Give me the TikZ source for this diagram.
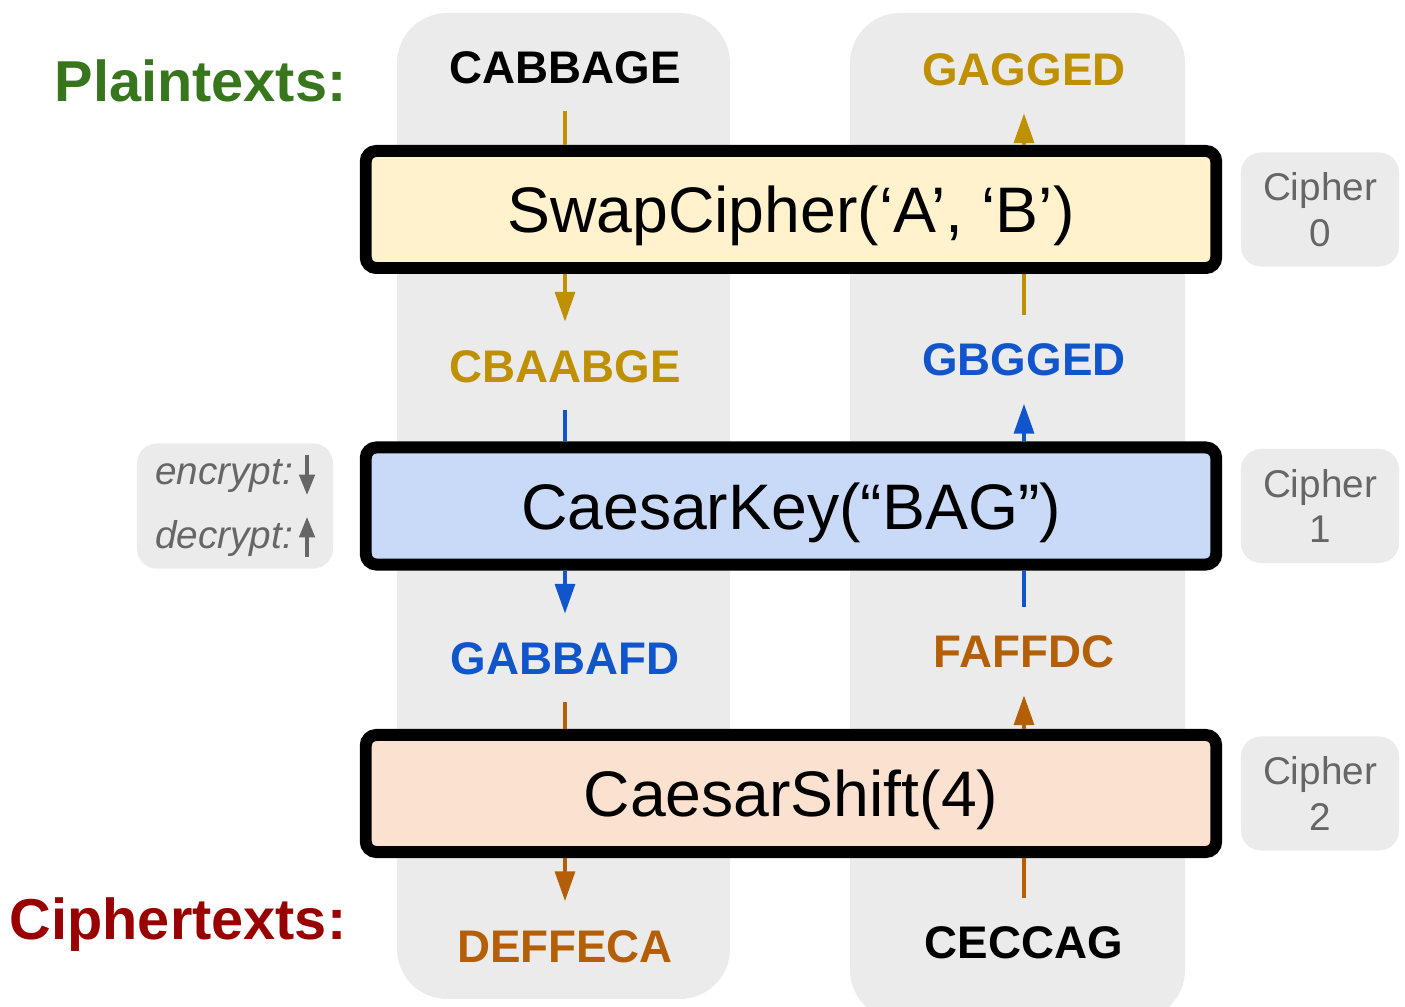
\documentclass[tikz,border=0pt]{standalone}
\usepackage{fontspec}
\setmainfont{Liberation Sans}
\usepackage{tikz}
\usetikzlibrary{arrows.meta, positioning}
\definecolor{colgray}{HTML}{EBEBEB}
\definecolor{taggray}{HTML}{666666}
\definecolor{encgold}{HTML}{BF9000}
\definecolor{encblue}{HTML}{1155CC}
\definecolor{encorange}{HTML}{B45F06}
\definecolor{plaingreen}{HTML}{38761D}
\definecolor{cipherred}{HTML}{990000}
\definecolor{swapfill}{HTML}{FFF2CC}
\definecolor{keyfill}{HTML}{C9DAF8}
\definecolor{shiftfill}{HTML}{FBE1CF}
\newcommand{\legarrow}[1]{\tikz[x=1cm, y=1cm, baseline=0pt]{\draw[taggray, line width=0.9pt, -{Triangle[width=4.4pt, length=5.8pt]}] #1;}}

\begin{document}
\begin{tikzpicture}[
  x=0.01cm, y=-0.01cm,
  column/.style={fill=colgray, rounded corners=0.5cm},
  word/.style={font=\fontsize{13}{15}\selectfont\bfseries, text height=0.33cm, text depth=0pt, inner xsep=0pt, inner ysep=0.27cm},
  cipherbox/.style={draw=black, line width=3.4pt, rounded corners=3pt, minimum width=8.5cm, minimum height=1.17cm, text height=0.46cm, text depth=0pt, font=\fontsize{18.3}{22}\selectfont},
  tag/.style={fill=colgray, rounded corners=0.2cm, minimum width=1.58cm, minimum height=1.14cm, align=center, text=taggray, font=\fontsize{11}{13}\selectfont},
  side/.style={font=\fontsize{16.4}{20}\selectfont\bfseries, anchor=east, inner sep=0pt, text height=0.41cm, text depth=0pt},
  lnk/.style={line width=1.2pt},
  arr/.style={lnk, -{Triangle[width=5.6pt, length=8.5pt]}},
]
\useasboundingbox (0,0) rectangle (1405,1007);

% Columns
\fill[column] (397,13) rectangle (730,999);
\fill[column] (850,13) rectangle (1185,1020);

% Ciphers
\node[cipherbox, fill=swapfill] (swap) at (791,209.5) {SwapCipher(‘A’, ‘B’)};
\node[cipherbox, fill=keyfill] (key) at (791,506) {CaesarKey(“BAG”)};
\node[cipherbox, fill=shiftfill] (shift) at (791,793.5) {CaesarShift(4)};

\node[tag, right=0.18cm of swap] (tag0) {Cipher\\0};
\node[tag, right=0.18cm of key] (tag1) {Cipher\\1};
\node[tag, right=0.18cm of shift] (tag2) {Cipher\\2};

\node[fill=colgray, rounded corners=0.2cm, minimum width=1.96cm, minimum height=1.22cm, inner ysep=0.1cm, align=center, text=taggray, font=\fontsize{11}{18.2}\selectfont, left=0.26cm of key] (legend)
  {\textit{encrypt:}\,\legarrow{(0,0.3) -- (0,-0.1)}\\\textit{decrypt:}\,\legarrow{(0,-0.08) -- (0,0.32)}};

\node[side, text=plaingreen] (plain) at (347,81.5) {Plaintexts:};
\node[side, text=cipherred] (cipher) at (347,919) {Ciphertexts:};

% Encrypt
\node[word] (cabbage) at (565,67) {CABBAGE};
\node[word, text=encgold] (cbaabge) at (565,366) {CBAABGE};
\node[word, text=encblue] (gabbafd) at (565,658) {GABBAFD};
\node[word, text=encorange] (deffeca) at (565,945.5) {DEFFECA};

% Decrypt
\node[word, text=encgold] (gagged) at (1024,69) {GAGGED};
\node[word, text=encblue] (gbgged) at (1024,359.5) {GBGGED};
\node[word, text=encorange] (faffdc) at (1024,651) {FAFFDC};
\node[word] (ceccag) at (1024,942) {CECCAG};

% Arrows
\draw[lnk, encgold] (cabbage) -- (cabbage |- swap.north);
\draw[arr, encgold] (cbaabge |- swap.south) -- (cbaabge);
\draw[lnk, encblue] (cbaabge) -- (cbaabge |- key.north);
\draw[arr, encblue] (gabbafd |- key.south) -- (gabbafd);
\draw[lnk, encorange] (gabbafd) -- (gabbafd |- shift.north);
\draw[arr, encorange] (deffeca |- shift.south) -- (deffeca);

\draw[lnk, encorange] (ceccag) -- (ceccag |- shift.south);
\draw[arr, encorange] (faffdc |- shift.north) -- (faffdc);
\draw[lnk, encblue] (faffdc) -- (faffdc |- key.south);
\draw[arr, encblue] (gbgged |- key.north) -- (gbgged);
\draw[lnk, encgold] (gbgged) -- (gbgged |- swap.south);
\draw[arr, encgold] (gagged |- swap.north) -- (gagged);

\end{tikzpicture}
\end{document}
